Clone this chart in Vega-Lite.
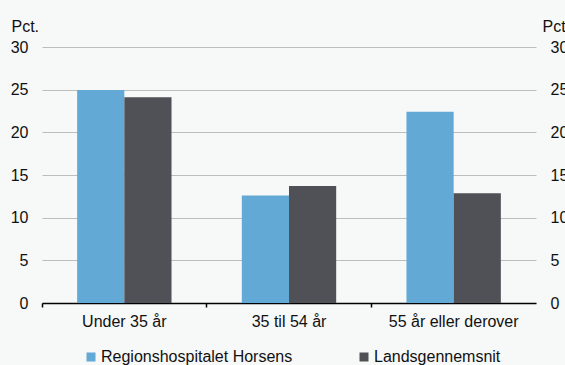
{
  "$schema": "https://vega.github.io/schema/vega-lite/v6.json",
  "width": 494,
  "height": 256,
  "autosize": {"type": "none"},
  "padding": {"left": 42, "top": 47, "right": 29, "bottom": 62},
  "background": "#f7f8f8",
  "config": {
    "font": "Liberation Sans",
    "view": {"stroke": null},
    "axis": {"labelFont": "Liberation Sans", "labelFontSize": 16, "labelColor": "#111111", "titleFont": "Liberation Sans", "titleFontSize": 16, "titleFontWeight": "normal", "titleColor": "#111111"},
    "legend": {"labelFont": "Liberation Sans", "labelFontSize": 16, "labelColor": "#111111"}
  },
  "data": {
    "values": [
      {"group": "Under 35 år", "series": "Regionshospitalet Horsens", "value": 24.95},
      {"group": "Under 35 år", "series": "Landsgennemsnit", "value": 24.1},
      {"group": "35 til 54 år", "series": "Regionshospitalet Horsens", "value": 12.6},
      {"group": "35 til 54 år", "series": "Landsgennemsnit", "value": 13.7},
      {"group": "55 år eller derover", "series": "Regionshospitalet Horsens", "value": 22.4},
      {"group": "55 år eller derover", "series": "Landsgennemsnit", "value": 12.85}
    ]
  },
  "encoding": {
    "x": {
      "field": "group", "type": "nominal",
      "sort": ["Under 35 år", "35 til 54 år", "55 år eller derover"],
      "scale": {"paddingInner": 0, "paddingOuter": 0},
      "axis": {"title": null, "labelAngle": 0, "bandPosition": 0, "labelOffset": 0, "domainColor": "#000000", "domainWidth": 1.5, "tickColor": "#000000", "tickSize": 4, "tickWidth": 1.5, "labelPadding": 6, "grid": false}
    },
    "xOffset": {
      "field": "series", "type": "nominal",
      "sort": ["Regionshospitalet Horsens", "Landsgennemsnit"],
      "scale": {"paddingInner": 0, "paddingOuter": 0.745}
    }
  },
  "layer": [
    {
      "mark": {"type": "bar"},
      "encoding": {
        "y": {
          "field": "value", "type": "quantitative",
          "scale": {"domain": [0, 30], "nice": false},
          "axis": {"orient": "left", "values": [0, 5, 10, 15, 20, 25, 30], "domain": false, "ticks": false, "labelPadding": 14, "gridColor": "#bdbdbd", "gridWidth": 1.2, "title": "Pct.", "titleAngle": 0, "titleAlign": "left", "titleBaseline": "alphabetic", "titleX": -31, "titleY": -16}
        },
        "color": {
          "field": "series", "type": "nominal",
          "sort": ["Regionshospitalet Horsens", "Landsgennemsnit"],
          "scale": {"domain": ["Regionshospitalet Horsens", "Landsgennemsnit"], "range": ["#62a9d5", "#505157"]},
          "legend": {"title": null, "orient": "none", "direction": "horizontal", "legendX": 41, "legendY": 302, "symbolType": "square", "symbolSize": 81, "symbolStrokeWidth": 0, "labelOffset": 2, "labelLimit": 400, "columnPadding": 63, "padding": 0}
        }
      }
    },
    {
      "mark": {"type": "bar", "opacity": 0},
      "encoding": {
        "y": {
          "field": "value", "type": "quantitative",
          "scale": {"domain": [0, 30], "nice": false},
          "axis": {"orient": "right", "values": [0, 5, 10, 15, 20, 25, 30], "domain": false, "ticks": false, "grid": false, "labelPadding": 14, "title": "Pct.", "titleAngle": 0, "titleAlign": "left", "titleBaseline": "alphabetic", "titleX": 6, "titleY": -16}
        }
      }
    }
  ],
  "resolve": {"axis": {"y": "independent"}}
}
